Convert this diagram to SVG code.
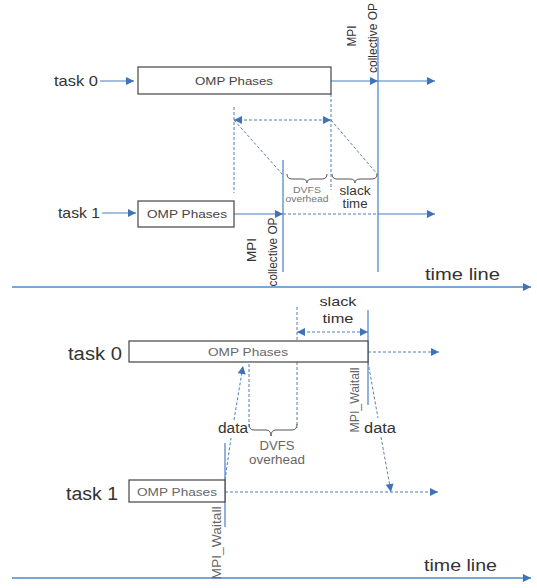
<svg xmlns="http://www.w3.org/2000/svg" width="537" height="588" viewBox="0 0 537 588">
<style>
text{font-family:"Liberation Sans",Arial,sans-serif;fill:#333}
.box{fill:#fff;stroke:#444;stroke-width:1.2}
.ln{stroke:#4a7fc1;stroke-width:1.2;fill:none}
.dl{stroke:#4a7fc1;stroke-width:1;fill:none;stroke-dasharray:3,2}
.dg{stroke:#6a7f99;stroke-width:1;fill:none;stroke-dasharray:3,2}
.br{stroke:#555;stroke-width:1;fill:none}
.tl{stroke:#4f8ac9;stroke-width:1.5;fill:none}
.lbl{font-size:15px}
.big{font-size:18px}
.omp{font-size:11px;fill:#444}
.sm{font-size:9px;fill:#777}
.grey{fill:#666}
.rot{font-size:12.5px}
</style>
<defs>
<marker id="a" viewBox="0 0 10 10" refX="10" refY="5" markerWidth="12" markerHeight="8" markerUnits="userSpaceOnUse" orient="auto-start-reverse">
<path d="M0,0 L10,5 L0,10 z" fill="#3f72b8"/>
</marker>
<marker id="at" viewBox="0 0 10 10" refX="10" refY="5" markerWidth="14" markerHeight="8" markerUnits="userSpaceOnUse" orient="auto">
<path d="M0,0 L10,5 L0,10 z" fill="#3f72b8"/>
</marker>
</defs>
<rect width="537" height="588" fill="#fff"/>

<g id="connectors">
<line class="ln" x1="100" y1="81" x2="134" y2="81" marker-end="url(#a)"/>
<line class="ln" x1="331" y1="81" x2="378" y2="81" marker-end="url(#a)"/>
<line class="ln" x1="378" y1="81" x2="435" y2="81" marker-end="url(#a)"/>
<line class="ln" x1="378" y1="37" x2="378" y2="272"/>
<line class="dl" x1="234" y1="107" x2="234" y2="193"/>
<line class="dl" x1="331" y1="94" x2="331" y2="190"/>
<line class="dl" x1="234" y1="120" x2="331" y2="120" marker-start="url(#a)" marker-end="url(#a)"/>
<line class="dg" x1="234" y1="120" x2="283" y2="175"/>
<line class="dg" x1="331" y1="120" x2="378" y2="175"/>
<line class="ln" x1="283" y1="160" x2="283" y2="272"/>
<path class="br" d="M287,174 Q287,179 292,179 L302,179 Q307,179 307,183 Q307,179 312,179 L322,179 Q327,179 327,174"/>
<path class="br" d="M332,174 Q332,179 337,179 L350,179 Q355,179 355,183 Q355,179 360,179 L372,179 Q377,179 377,174"/>
<line class="ln" x1="102" y1="213" x2="136" y2="213" marker-end="url(#a)"/>
<line class="ln" x1="234" y1="214" x2="283" y2="214" marker-end="url(#a)"/>
<line class="dl" x1="283" y1="214" x2="378" y2="214"/>
<line class="ln" x1="378" y1="214" x2="435" y2="214" marker-end="url(#a)"/>
<line class="tl" x1="12" y1="287" x2="531" y2="287" marker-end="url(#at)"/>

<line class="dl" x1="297" y1="307" x2="297" y2="428"/>
<line class="ln" x1="368" y1="310" x2="368" y2="405"/>
<line class="dl" x1="297" y1="332" x2="368" y2="332" marker-start="url(#a)" marker-end="url(#a)"/>
<line class="dl" x1="368" y1="352" x2="439" y2="352" marker-end="url(#a)"/>
<line class="dg" x1="368" y1="362" x2="378" y2="418"/>
<line class="dg" x1="381" y1="437" x2="391" y2="492" marker-end="url(#a)"/>
<line class="dl" x1="249" y1="364" x2="249" y2="428"/>
<path class="br" d="M249,424 Q249,430 254,430 L266,430 Q271,430 271,436 Q271,430 276,430 L292,430 Q297,430 297,424"/>
<line class="ln" x1="225" y1="443" x2="225" y2="527"/>
<line class="dl" x1="225" y1="492" x2="438" y2="492" marker-end="url(#a)"/>
<line class="dl" x1="225" y1="480" x2="231" y2="438"/>
<line class="dl" x1="234" y1="420" x2="243" y2="366" marker-end="url(#a)"/>
<line class="tl" x1="12" y1="578" x2="531" y2="578" marker-end="url(#at)"/>
</g>

<g id="top-task0">
<text class="lbl" x="54" y="86" textLength="44" lengthAdjust="spacingAndGlyphs">task 0</text>
<rect class="box" x="138" y="67" width="193" height="27"/>
<text class="omp" x="234" y="85" text-anchor="middle" textLength="78" lengthAdjust="spacingAndGlyphs">OMP Phases</text>
</g>
<g id="top-task1">
<text class="lbl" x="58" y="218" textLength="42" lengthAdjust="spacingAndGlyphs">task 1</text>
<rect class="box" x="138" y="201" width="96" height="26"/>
<text class="omp" x="187" y="218" text-anchor="middle" textLength="80" lengthAdjust="spacingAndGlyphs">OMP Phases</text>
</g>
<g id="top-labels">
<text class="rot" transform="translate(356,36) rotate(-90)" text-anchor="middle" textLength="21" lengthAdjust="spacingAndGlyphs">MPI</text>
<text class="rot" transform="translate(377,38) rotate(-90)" text-anchor="middle" textLength="70" lengthAdjust="spacingAndGlyphs">collective OP</text>
<text class="rot" transform="translate(256,250) rotate(-90)" text-anchor="middle" textLength="24" lengthAdjust="spacingAndGlyphs">MPI</text>
<text class="rot" transform="translate(277,252) rotate(-90)" text-anchor="middle" textLength="69" lengthAdjust="spacingAndGlyphs">collective OP</text>
<text class="sm" x="307" y="193" text-anchor="middle" textLength="28" lengthAdjust="spacingAndGlyphs">DVFS</text>
<text class="sm" x="307" y="202" text-anchor="middle" textLength="43" lengthAdjust="spacingAndGlyphs">overhead</text>
<text font-size="12" x="355" y="195" text-anchor="middle" textLength="31" lengthAdjust="spacingAndGlyphs">slack</text>
<text font-size="12" x="355" y="208" text-anchor="middle" textLength="25" lengthAdjust="spacingAndGlyphs">time</text>
<text font-size="17" x="425" y="280" textLength="75" lengthAdjust="spacingAndGlyphs">time line</text>
</g>

<g id="bottom-task0">
<text class="big" x="68" y="360" textLength="54" lengthAdjust="spacingAndGlyphs">task 0</text>
<rect class="box" x="129" y="341" width="239" height="21"/>
<text class="omp grey" x="248" y="356" text-anchor="middle" textLength="80" lengthAdjust="spacingAndGlyphs">OMP Phases</text>
</g>
<g id="bottom-task1">
<text class="big" x="66" y="500" textLength="52" lengthAdjust="spacingAndGlyphs">task 1</text>
<rect class="box" x="129" y="480" width="96" height="22"/>
<text class="omp grey" x="177" y="496" text-anchor="middle" textLength="80" lengthAdjust="spacingAndGlyphs">OMP Phases</text>
</g>
<g id="bottom-labels">
<text font-size="13" x="338" y="306" text-anchor="middle" textLength="37" lengthAdjust="spacingAndGlyphs">slack</text>
<text font-size="13" x="338" y="323" text-anchor="middle" textLength="31" lengthAdjust="spacingAndGlyphs">time</text>
<text class="rot grey" transform="translate(359,400) rotate(-90)" text-anchor="middle" textLength="65" lengthAdjust="spacingAndGlyphs">MPI_Waitall</text>
<text class="rot grey" transform="translate(221,543) rotate(-90)" text-anchor="middle" textLength="73" lengthAdjust="spacingAndGlyphs">MPI_Waitall</text>
<text font-size="14" x="218" y="433" textLength="30" lengthAdjust="spacingAndGlyphs">data</text>
<text font-size="14" x="364" y="433" textLength="32" lengthAdjust="spacingAndGlyphs">data</text>
<text font-size="12" class="grey" x="277" y="450" text-anchor="middle" textLength="35" lengthAdjust="spacingAndGlyphs">DVFS</text>
<text font-size="12" class="grey" x="277" y="464" text-anchor="middle" textLength="56" lengthAdjust="spacingAndGlyphs">overhead</text>
<text font-size="17" x="424" y="571" textLength="73" lengthAdjust="spacingAndGlyphs">time line</text>
</g>
</svg>
